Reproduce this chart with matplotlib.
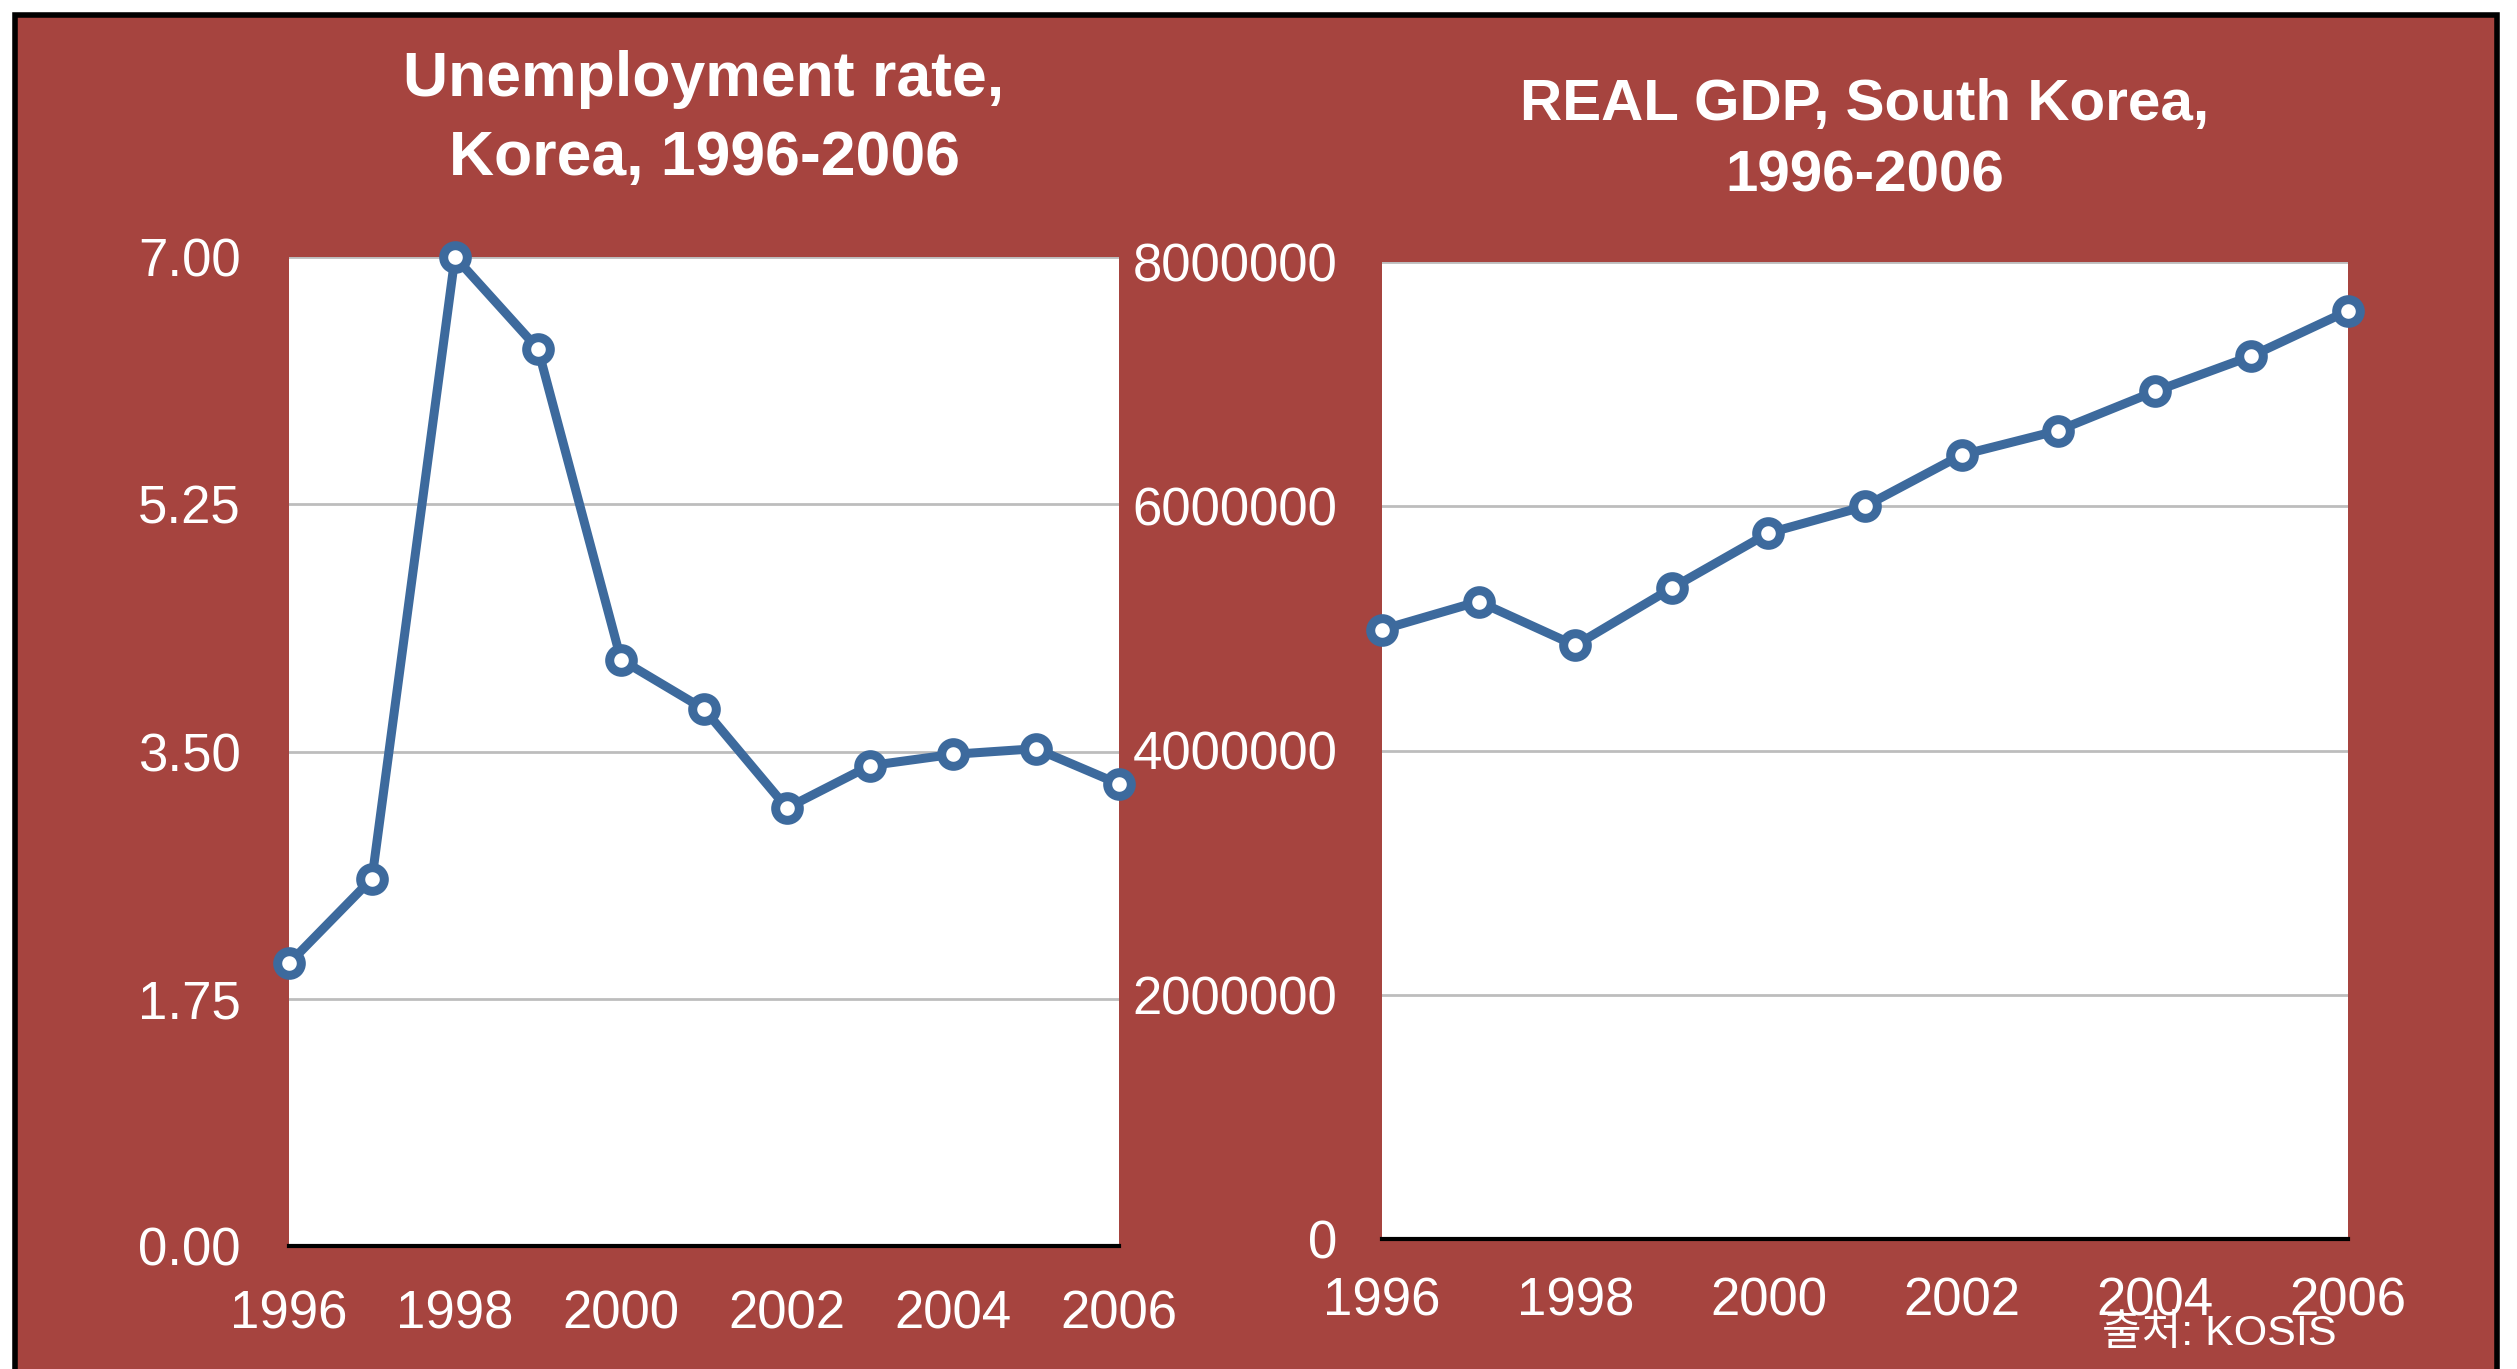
import matplotlib.pyplot as plt
from matplotlib.patches import Rectangle

# data
years = list(range(1996, 2007))
unemployment = [2.0, 2.6, 7.0, 6.35, 4.15, 3.8, 3.1, 3.4, 3.48, 3.52, 3.27]
real_gdp = [4990000, 5220000, 4860000, 5330000, 5780000, 6000000,
            6420000, 6620000, 6940000, 7230000, 7600000]

year_ticks = [1996, 1998, 2000, 2002, 2004, 2006]
unemp_ticks = [0.0, 1.75, 3.5, 5.25, 7.0]
gdp_ticks = [0, 2000000, 4000000, 6000000, 8000000]

left_title = ["Unemployment rate,", "Korea, 1996-2006"]
right_title = ["REAL GDP, South Korea,", "1996-2006"]
source_note = "출처: KOSIS"

W, H = 2517, 1369
bg_red = '#A6443F'
line_blue = '#3D6A9D'
font = ['Liberation Sans', 'Noto Sans CJK KR', 'DejaVu Sans']

fig = plt.figure(figsize=(W / 100, H / 100), dpi=100)
fig.patch.set_facecolor('white')

# red board with black frame
fig.add_artist(Rectangle((15 / W, -0.05), (2497 - 15) / W, 1 - 15 / H + 0.05,
                         transform=fig.transFigure, facecolor=bg_red,
                         edgecolor='black', linewidth=4, zorder=-1))


def draw_panel(rect, yvals, yticks, ylabels, ypad, xpad):
    ax = fig.add_axes(rect)
    ax.set_facecolor('white')
    ax.plot(years, yvals, color=line_blue, lw=6.5, marker='o', ms=17,
            mew=6.5, mfc='white', mec=line_blue, clip_on=False, zorder=3)
    ax.set_xlim(1996, 2006)
    ax.set_ylim(yticks[0], yticks[-1])
    ax.set_xticks(year_ticks)
    ax.set_yticks(yticks)
    ax.set_yticklabels(ylabels)
    ax.yaxis.grid(True, color='#BDBDBD', lw=2)
    ax.set_axisbelow(True)
    for side in ['top', 'left', 'right']:
        ax.spines[side].set_visible(False)
    ax.spines['bottom'].set_color('black')
    ax.spines['bottom'].set_linewidth(3)
    ax.tick_params(axis='both', length=0, labelcolor='white', labelsize=38)
    ax.tick_params(axis='y', pad=ypad)
    ax.tick_params(axis='x', pad=xpad)
    for lab in ax.get_xticklabels() + ax.get_yticklabels():
        lab.set_family(font)
    return ax


ax1 = draw_panel([289 / W, 1 - 1246 / H, 830 / W, 989 / H], unemployment,
                 unemp_ticks, [f"{t:.2f}" for t in unemp_ticks], 35, 31)
ax2 = draw_panel([1382 / W, 1 - 1239 / H, 966 / W, 977 / H], real_gdp,
                 gdp_ticks, [str(t) for t in gdp_ticks], 32, 27)

# titles
for txt, yb in zip(left_title, [96, 175]):
    fig.text(704 / W, 1 - yb / H, txt, ha='center', va='baseline', color='white',
             fontsize=45, fontweight='bold', family=font)
for txt, yb in zip(right_title, [120, 191]):
    fig.text(1865 / W, 1 - yb / H, txt, ha='center', va='baseline', color='white',
             fontsize=42, fontweight='bold', family=font)

fig.text(2219 / W, 1 - 1345 / H, source_note, ha='center', va='baseline',
         color='white', fontsize=31, family=font)

fig.savefig('out.png', dpi=100, facecolor=fig.get_facecolor())
